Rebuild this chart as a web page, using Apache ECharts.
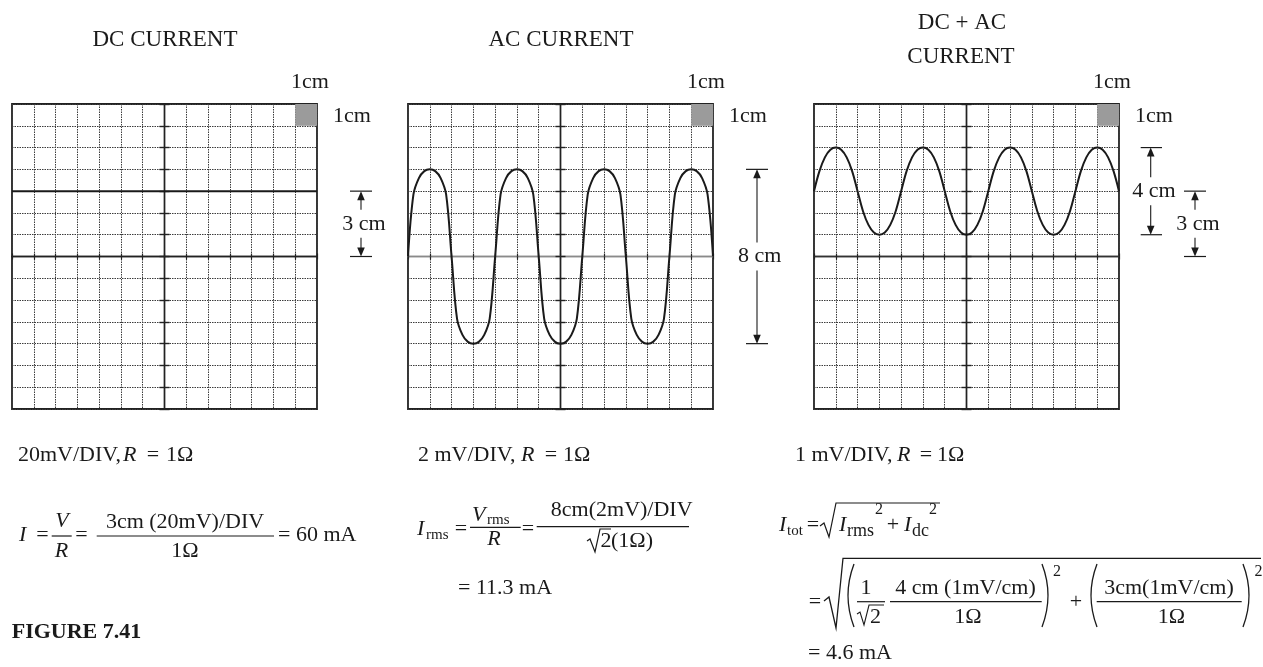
<!DOCTYPE html>
<html><head><meta charset="utf-8">
<script src="https://cdn.jsdelivr.net/npm/echarts@6/dist/echarts.min.js"></script>
<style>html,body{margin:0;padding:0;background:#fff}#c{width:1263px;height:667px}</style>
</head><body><div id="c"></div>
<script>
// ---------------- data ----------------
const axisMin = -7, axisMax = 7, axisStep = 1;          // 14 x 14 divisions (1 cm each)
const panelTitles = [['DC CURRENT'], ['AC CURRENT'], ['DC + AC', 'CURRENT']];
const markerCellX = [6, 7];                              // grey 1cm reference square
const markerCellY = [6, 7];

const dcX = [-7, 7];
const dcY = [3, 3];

const acX = [-7,-6.75,-6.5,-6.25,-6,-5.75,-5.5,-5.25,-5,-4.75,-4.5,-4.25,-4,-3.75,-3.5,-3.25,
             -3,-2.75,-2.5,-2.25,-2,-1.75,-1.5,-1.25,-1,-0.75,-0.5,-0.25,0,0.25,0.5,0.75,
             1,1.25,1.5,1.75,2,2.25,2.5,2.75,3,3.25,3.5,3.75,4,4.25,4.5,4.75,
             5,5.25,5.5,5.75,6,6.25,6.5,6.75,7];
const acY = [0,2.85,3.6,3.92,4,3.92,3.6,2.85,0,-2.85,-3.6,-3.92,-4,-3.92,-3.6,-2.85,
             0,2.85,3.6,3.92,4,3.92,3.6,2.85,0,-2.85,-3.6,-3.92,-4,-3.92,-3.6,-2.85,
             0,2.85,3.6,3.92,4,3.92,3.6,2.85,0,-2.85,-3.6,-3.92,-4,-3.92,-3.6,-2.85,
             0,2.85,3.6,3.92,4,3.92,3.6,2.85,0];

const dcacX = acX.slice();
const dcacY = [3,3.92,4.55,4.9,5,4.9,4.55,3.92,3,2.08,1.45,1.1,1,1.1,1.45,2.08,
               3,3.92,4.55,4.9,5,4.9,4.55,3.92,3,2.08,1.45,1.1,1,1.1,1.45,2.08,
               3,3.92,4.55,4.9,5,4.9,4.55,3.92,3,2.08,1.45,1.1,1,1.1,1.45,2.08,
               3,3.92,4.55,4.9,5,4.9,4.55,3.92,3];

// dimension annotations
const dimFrom  = [3, 4, 5, 3];
const dimTo    = [0, -4, 1, 0];
const dimPanel = [0, 1, 2, 2];
const dimLabel = ['3 cm', '8 cm', '4 cm', '3 cm'];

// ---------------- chart ----------------
const chart = echarts.init(document.getElementById('c'), null, {renderer: 'canvas'});
const FF = '"Liberation Serif","Times New Roman",serif';
const INK = '#1a1a1a';
const gridLefts = [12, 408, 814];
const centerXColor = ['#222', '#8a8a8a', '#333'];

const zip = (xs, ys) => xs.map((x, i) => [x, ys[i]]);
const seriesData = [zip(dcX, dcY), zip(acX, acY), zip(dcacX, dcacY)];
const gridLine = {color: '#3c3c3c', type: [1.5, 1], width: 1};

const grid = [], xAxis = [], yAxis = [], series = [];
for (let g = 0; g < 3; g++) {
  grid.push({left: gridLefts[g], top: 104, width: 305, height: 305, show: true,
    borderColor: '#222', borderWidth: 1.8, backgroundColor: 'rgba(0,0,0,0)', containLabel: false, outerBoundsMode: 'none'});
  const base = {gridIndex: g, type: 'value', min: axisMin, max: axisMax, interval: axisStep,
    axisLabel: {show: false}, silent: true};
  xAxis.push(Object.assign({}, base, {position: 'bottom',
    axisLine: {show: true, onZero: true, lineStyle: {color: centerXColor[g], width: 1.4}},
    axisTick: {show: true, length: 3, lineStyle: {color: '#222', width: 1.2}},
    splitLine: {show: true, lineStyle: gridLine}}));
  xAxis.push(Object.assign({}, base, {position: 'top',
    axisLine: {show: true, onZero: true, lineStyle: {color: centerXColor[g], width: 1.4}},
    axisTick: {show: true, length: 3, lineStyle: {color: '#222', width: 1.2}},
    splitLine: {show: false}}));
  yAxis.push(Object.assign({}, base, {position: 'left',
    axisLine: {show: true, onZero: true, lineStyle: {color: '#222', width: 1.4}},
    axisTick: {show: true, length: 5, lineStyle: {color: '#222', width: 1.4}},
    splitLine: {show: true, lineStyle: gridLine}}));
  yAxis.push(Object.assign({}, base, {position: 'right',
    axisLine: {show: true, onZero: true, lineStyle: {color: '#222', width: 1.4}},
    axisTick: {show: true, length: 5, lineStyle: {color: '#222', width: 1.4}},
    splitLine: {show: false}}));
  series.push({type: 'line', xAxisIndex: 2 * g, yAxisIndex: 2 * g, data: seriesData[g],
    showSymbol: false, smooth: g === 0 ? false : 0.35, silent: true, z: 5,
    lineStyle: {color: INK, width: 2},
    markArea: {silent: true, itemStyle: {color: '#9b9b9b', opacity: 1},
      data: [[{coord: [markerCellX[0], markerCellY[1]]}, {coord: [markerCellX[1], markerCellY[0]]}]]}});
}

chart.setOption({backgroundColor: '#fff', animation: false, grid, xAxis, yAxis, series});

// ---------------- graphics (text, formulas, dimension arrows) ----------------
function txt(x, y, s, size, o) {
  o = o || {};
  const font = (o.italic ? 'italic ' : '') + (o.bold ? 'bold ' : '') + size + 'px ' + FF;
  const al = o.align || 'left';
  return {type: 'text', silent: true, z: 100, style: {text: s, x: x, y: y, font: font, fill: INK,
    align: al, textAlign: al, verticalAlign: 'middle', textVerticalAlign: 'middle'}};
}
function line(x1, y1, x2, y2, w) {
  return {type: 'line', silent: true, z: 100, shape: {x1, y1, x2, y2}, style: {stroke: INK, lineWidth: w || 1.2, fill: 'none'}};
}
function pline(points, w) {
  return {type: 'polyline', silent: true, z: 100, shape: {points}, style: {stroke: INK, lineWidth: w || 1.2, fill: 'none'}};
}
function poly(points) {
  return {type: 'polygon', silent: true, z: 100, shape: {points}, style: {fill: INK, stroke: 'none'}};
}
function paren(x, y1, y2, cx) {
  return {type: 'bezierCurve', silent: true, z: 100, shape: {x1: x, y1: y1, x2: x, y2: y2, cpx1: cx, cpy1: (y1 + y2) / 2},
    style: {stroke: INK, lineWidth: 1.3, fill: 'none'}};
}
const P = (g, x, y) => chart.convertToPixel({gridIndex: g}, [x, y]);

const G = [];
// titles
G.push(txt(165, 40, panelTitles[0][0], 23, {align: 'center'}));
G.push(txt(561, 40, panelTitles[1][0], 23, {align: 'center'}));
G.push(txt(962, 23, panelTitles[2][0], 23, {align: 'center'}));
G.push(txt(961, 57, panelTitles[2][1], 23, {align: 'center'}));

// 1cm labels
for (let g = 0; g < 3; g++) {
  const tr = P(g, axisMax, axisMax);
  G.push(txt(tr[0] - 7, tr[1] - 22, '1cm', 22, {align: 'center'}));
  G.push(txt(tr[0] + 35, tr[1] + 12, '1cm', 22, {align: 'center'}));
}

// dimension arrows
const dimLineDx = [44, 44, 31.7, 76];
const dimBarL = [33, 33, 21.7, 65];
const dimBarR = [55, 55, 43, 87];
const dimTextDx = [47, 46.7, 35, 79];
for (let i = 0; i < dimFrom.length; i++) {
  const g = dimPanel[i];
  const r = P(g, axisMax, 0)[0];
  const yT = P(g, 0, dimFrom[i])[1], yB = P(g, 0, dimTo[i])[1];
  const xl = r + dimLineDx[i];
  const ym = (yT + yB) / 2;
  G.push(line(r + dimBarL[i], yT, r + dimBarR[i], yT, 1.2));
  G.push(line(r + dimBarL[i], yB, r + dimBarR[i], yB, 1.2));
  G.push(line(xl, yT + 6, xl, ym - 14, 1.1));
  G.push(line(xl, ym + 14, xl, yB - 6, 1.1));
  G.push(poly([[xl, yT], [xl - 3.8, yT + 9], [xl + 3.8, yT + 9]]));
  G.push(poly([[xl, yB], [xl - 3.8, yB - 9], [xl + 3.8, yB - 9]]));
  G.push(txt(r + dimTextDx[i], ym, dimLabel[i], 22, {align: 'center'}));
}

// ---- DC column formulas ----
G.push(txt(18, 455, '20mV/DIV,', 22));
G.push(txt(123, 455, 'R', 22, {italic: true}));
G.push(txt(153, 455, '=', 22, {align: 'center'}));
G.push(txt(166, 455, '1Ω', 22));

G.push(txt(19, 535, 'I', 22, {italic: true}));
G.push(txt(42.5, 535, '=', 22, {align: 'center'}));
G.push(txt(62, 521, 'V', 22, {italic: true, align: 'center'}));
G.push(line(51.7, 536, 71.7, 536, 1.2));
G.push(txt(61.5, 551, 'R', 22, {italic: true, align: 'center'}));
G.push(txt(81.5, 535, '=', 22, {align: 'center'}));
G.push(txt(185, 522, '3cm (20mV)/DIV', 22, {align: 'center'}));
G.push(line(96.7, 536, 274, 536, 1.2));
G.push(txt(185, 551, '1Ω', 22, {align: 'center'}));
G.push(txt(278, 535, '= 60 mA', 22));

G.push(txt(11.7, 632, 'FIGURE 7.41', 22, {bold: true}));

// ---- AC column formulas ----
G.push(txt(418, 455, '2 mV/DIV,', 22));
G.push(txt(521, 455, 'R', 22, {italic: true}));
G.push(txt(551, 455, '=', 22, {align: 'center'}));
G.push(txt(563, 455, '1Ω', 22));

G.push(txt(417, 529, 'I', 22, {italic: true}));
G.push(txt(426, 535, 'rms', 15));
G.push(txt(461, 529, '=', 22, {align: 'center'}));
G.push(txt(472, 515, 'V', 22, {italic: true}));
G.push(txt(487, 520, 'rms', 15));
G.push(line(470, 527.3, 520.7, 527.3, 1.2));
G.push(txt(494, 539, 'R', 22, {italic: true, align: 'center'}));
G.push(txt(528, 529, '=', 22, {align: 'center'}));
G.push(txt(621.7, 510, '8cm(2mV)/DIV', 22, {align: 'center'}));
G.push(line(536.7, 526.7, 689, 526.7, 1.2));
G.push(pline([[587, 541], [590, 539], [595, 552], [600, 529], [611, 529]], 1.2));
G.push(txt(600.5, 541, '2', 22));
G.push(txt(611, 541, '(1Ω)', 22));
G.push(txt(458, 588, '= 11.3 mA', 22));

// ---- DC + AC column formulas ----
G.push(txt(795, 455, '1 mV/DIV,', 22));
G.push(txt(897, 455, 'R', 22, {italic: true}));
G.push(txt(926, 455, '=', 22, {align: 'center'}));
G.push(txt(937, 455, '1Ω', 22));

G.push(txt(779, 525, 'I', 22, {italic: true}));
G.push(txt(787, 531, 'tot', 15));
G.push(txt(813, 525, '=', 22, {align: 'center'}));
G.push(pline([[820, 526], [824, 523], [829, 537], [836, 503], [940, 503]], 1.2));
G.push(txt(839, 525, 'I', 22, {italic: true}));
G.push(txt(847, 531, 'rms', 18));
G.push(txt(875, 510, '2', 16));
G.push(txt(893, 525, '+', 22, {align: 'center'}));
G.push(txt(904, 525, 'I', 22, {italic: true}));
G.push(txt(912, 531, 'dc', 18));
G.push(txt(929, 510, '2', 16));

G.push(txt(815, 602, '=', 22, {align: 'center'}));
G.push(pline([[824, 601], [829, 597], [836, 628], [843, 558.3], [1261, 558.3]], 1.3));
G.push(paren(854, 564, 627, 842));
G.push(txt(866, 588, '1', 22, {align: 'center'}));
G.push(line(857, 601.7, 885, 601.7, 1.2));
G.push(pline([[857, 614], [860, 612], [864, 625], [869, 605], [884, 605]], 1.1));
G.push(txt(870, 617, '2', 22));
G.push(txt(965.5, 588, '4 cm (1mV/cm)', 22, {align: 'center'}));
G.push(line(890, 601.7, 1041.7, 601.7, 1.2));
G.push(txt(968, 617, '1Ω', 22, {align: 'center'}));
G.push(paren(1042, 564, 627, 1054));
G.push(txt(1053, 572, '2', 16));
G.push(txt(1076, 602, '+', 22, {align: 'center'}));
G.push(paren(1097, 564, 627, 1085));
G.push(txt(1169, 588, '3cm(1mV/cm)', 22, {align: 'center'}));
G.push(line(1096.7, 601.7, 1241.7, 601.7, 1.2));
G.push(txt(1171.5, 617, '1Ω', 22, {align: 'center'}));
G.push(paren(1243, 564, 627, 1255));
G.push(txt(1254.5, 572, '2', 16));
G.push(txt(808, 653, '= 4.6 mA', 22));

chart.setOption({graphic: {elements: G}});
</script></body></html>
